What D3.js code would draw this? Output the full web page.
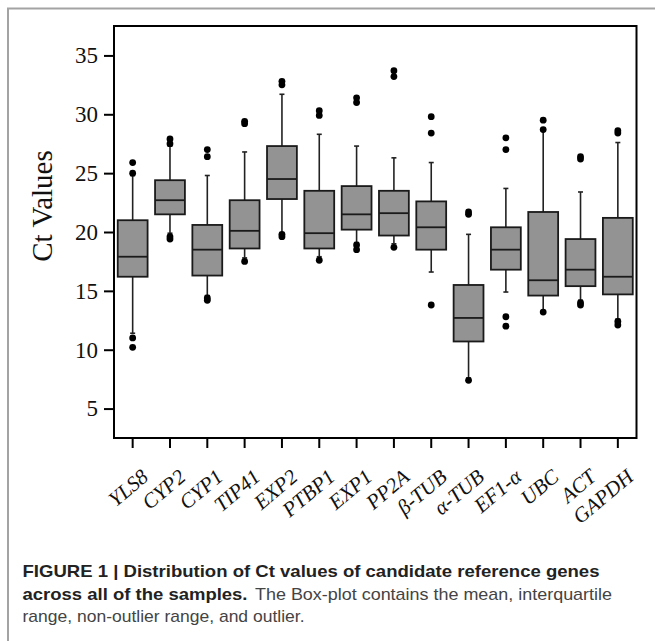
<!DOCTYPE html>
<html>
<head>
<meta charset="utf-8">
<script src="https://cdn.jsdelivr.net/npm/d3@7"></script>
<style>
  body { margin: 0; background: #fff; }
  svg { display: block; }
</style>
</head>
<body>
<svg id="chart"></svg>
<script>
var genes = ["YLS8", "CYP2", "CYP1", "TIP41", "EXP2", "PTBP1", "EXP1", "PP2A",
             "β-TUB", "α-TUB", "EF1-α", "UBC", "ACT", "GAPDH"];
var whiskerLow  = [11.4, 19.9, 14.6, 17.8, 19.9, 17.9, 19.1, 19.0, 16.6, 7.6, 14.9, 13.3, 14.2, 12.6];
var q1          = [16.2, 21.5, 16.3, 18.6, 22.8, 18.6, 20.2, 19.7, 18.5, 10.7, 16.8, 14.6, 15.4, 14.7];
var median      = [17.9, 22.7, 18.5, 20.1, 24.5, 19.9, 21.5, 21.6, 20.4, 12.7, 18.5, 15.9, 16.8, 16.2];
var q3          = [21.0, 24.4, 20.6, 22.7, 27.3, 23.5, 23.9, 23.5, 22.6, 15.5, 20.4, 21.7, 19.4, 21.2];
var whiskerHigh = [24.8, 27.3, 24.8, 26.8, 31.7, 28.3, 27.3, 26.3, 25.9, 19.8, 23.7, 28.6, 23.4, 27.6];
var outliers = [
  [25.9, 25.0, 11.0, 10.2],
  [27.9, 27.5, 19.6, 19.4],
  [27.0, 26.4, 14.4, 14.2],
  [29.4, 29.2, 17.5],
  [32.8, 32.5, 19.8, 19.6],
  [30.3, 29.9, 17.6],
  [31.4, 31.0, 18.9, 18.5],
  [33.7, 33.2, 18.7],
  [29.8, 28.4, 13.8],
  [21.7, 21.5, 7.4],
  [28.0, 27.0, 12.8, 12.0],
  [29.5, 28.7, 13.2],
  [26.4, 26.2, 14.0, 13.8],
  [28.6, 28.4, 12.4, 12.1]
];
var yTicks = [5, 10, 15, 20, 25, 30, 35];

var svgWidth = 655, svgHeight = 641;
var margin = { top: 26, right: 18.5, bottom: 203, left: 114 };
var width = svgWidth - margin.left - margin.right;
var height = svgHeight - margin.top - margin.bottom;

var svg = d3.select("#chart")
  .attr("width", svgWidth)
  .attr("height", svgHeight);

// outer figure frame (top and left only are visible)
svg.append("path")
  .attr("d", "M8," + svgHeight + "V8.5H" + svgWidth)
  .attr("fill", "none")
  .attr("stroke", "#a3a3a3")
  .attr("stroke-width", 2);

var chart = svg.append("g")
  .attr("transform", `translate(${margin.left}, ${margin.top})`);

var x = d3.scaleBand()
  .domain(genes)
  .range([0, width])
  .paddingInner(0.2)
  .paddingOuter(0.1);
var y = d3.scaleLinear()
  .domain([2.5, 37.5])
  .range([height, 0]);

var boxes = genes.map(function(g, i) {
  return { gene: g, lo: whiskerLow[i], q1: q1[i], med: median[i], q3: q3[i], hi: whiskerHigh[i], out: outliers[i] };
});

// axes
var yAxis = chart.append("g")
  .call(d3.axisLeft(y).tickValues(yTicks).tickSize(10).tickSizeOuter(0).tickPadding(6));
yAxis.select(".domain").remove();
yAxis.selectAll("line").attr("stroke", "#000").attr("stroke-width", 2);
yAxis.selectAll("text")
  .attr("font-family", "'Liberation Serif', 'Times New Roman', serif")
  .attr("font-size", 23)
  .attr("fill", "#111");

var xAxis = chart.append("g")
  .attr("transform", "translate(0," + height + ")")
  .call(d3.axisBottom(x).tickSize(10).tickSizeOuter(0));
xAxis.select(".domain").remove();
xAxis.selectAll("line").attr("stroke", "#000").attr("stroke-width", 2);
xAxis.selectAll("text").remove();

chart.append("g")
  .selectAll("text")
  .data(genes)
  .enter()
  .append("text")
  .attr("transform", function(d) {
    return "translate(" + (x(d) + x.bandwidth() / 2 + 17) + "," + (height + 41) + ") rotate(-40)";
  })
  .attr("text-anchor", "end")
  .attr("font-family", "'Liberation Serif', 'Times New Roman', serif")
  .attr("font-style", "italic")
  .attr("font-size", 21)
  .attr("fill", "#111")
  .text(function(d) { return d; });

// whiskers, boxes, outliers
var bw = x.bandwidth();
var g = chart.selectAll(".box")
  .data(boxes)
  .enter()
  .append("g")
  .attr("class", "box")
  .attr("transform", function(d) { return "translate(" + (x(d.gene) + bw / 2) + ",0)"; });

g.append("line")
  .attr("x1", 0).attr("x2", 0)
  .attr("y1", function(d) { return y(d.hi); })
  .attr("y2", function(d) { return y(d.lo); })
  .attr("stroke", "#222")
  .attr("stroke-width", 1.6);

g.selectAll(".cap")
  .data(function(d) { return [d.lo, d.hi]; })
  .enter()
  .append("line")
  .attr("x1", -2.5).attr("x2", 2.5)
  .attr("y1", function(v) { return y(v); })
  .attr("y2", function(v) { return y(v); })
  .attr("stroke", "#222")
  .attr("stroke-width", 1.6);

g.append("rect")
  .attr("x", -bw / 2)
  .attr("width", bw)
  .attr("y", function(d) { return y(d.q3); })
  .attr("height", function(d) { return y(d.q1) - y(d.q3); })
  .attr("fill", "#939393")
  .attr("stroke", "#1a1a1a")
  .attr("stroke-width", 1.8);

g.append("line")
  .attr("x1", -bw / 2).attr("x2", bw / 2)
  .attr("y1", function(d) { return y(d.med); })
  .attr("y2", function(d) { return y(d.med); })
  .attr("stroke", "#1a1a1a")
  .attr("stroke-width", 1.8);

g.selectAll(".outlier")
  .data(function(d) { return d.out; })
  .enter()
  .append("circle")
  .attr("cx", 0)
  .attr("cy", function(v) { return y(v); })
  .attr("r", 3.4)
  .attr("fill", "#000");

// plot frame
chart.append("rect")
  .attr("width", width)
  .attr("height", height)
  .attr("fill", "none")
  .attr("stroke", "#000")
  .attr("stroke-width", 2);

// y label
svg.append("text")
  .attr("transform", "translate(52,206) rotate(-90)")
  .attr("text-anchor", "middle")
  .attr("font-family", "'Liberation Serif', 'Times New Roman', serif")
  .attr("font-size", 29)
  .attr("fill", "#111")
  .text("Ct Values");

// caption
var cap = svg.append("g")
  .attr("font-family", "'Liberation Sans', Arial, Helvetica, sans-serif")
  .attr("font-size", 17);

function capText(str, xPos, yPos, len, bold) {
  cap.append("text")
    .attr("x", xPos).attr("y", yPos)
    .attr("textLength", len)
    .attr("lengthAdjust", "spacingAndGlyphs")
    .attr("font-weight", bold ? "bold" : "normal")
    .attr("fill", bold ? "#222" : "#444")
    .text(str);
}
capText("FIGURE 1 | Distribution of Ct values of candidate reference genes", 22.5, 577, 577, true);
capText("across all of the samples.", 22.5, 599.5, 225, true);
capText("The Box-plot contains the mean, interquartile", 255, 599.5, 357, false);
capText("range, non-outlier range, and outlier.", 22.5, 622, 282, false);
</script>
</body>
</html>
